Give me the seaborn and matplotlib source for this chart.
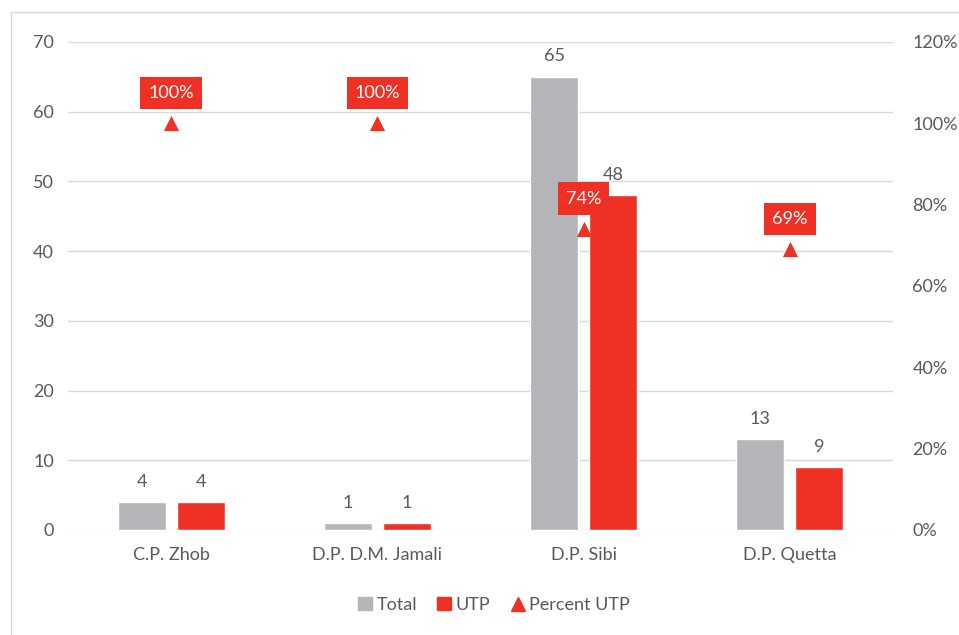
import matplotlib
matplotlib.use('Agg')
import matplotlib.pyplot as plt
import matplotlib.patches as mpatches
from matplotlib.lines import Line2D
import seaborn as sns
import pandas as pd
import numpy as np

# Data
districts = ['C.P. Zhob', 'D.P. D.M. Jamali', 'D.P. Sibi', 'D.P. Quetta']
total = [4, 1, 65, 13]
utp = [4, 1, 48, 9]
percent_utp = [100, 100, 74, 69]

GRAY = '#B4B5B8'
RED = '#EE3124'
TXT = '#595959'
FS = 13

sns.set_theme(style='white')
plt.rcParams['font.family'] = ['Lato', 'DejaVu Sans']

df = pd.DataFrame({'District': districts * 2,
                   'Count': total + utp,
                   'Series': ['Total'] * 4 + ['UTP'] * 4})

fig = plt.figure(figsize=(9.59, 6.35), dpi=100)
ax = fig.add_axes([68 / 959, 105 / 635, 825 / 959, 488 / 635])

sns.barplot(data=df, x='District', y='Count', hue='Series',
            palette=[GRAY, RED], saturation=1, width=0.572, gap=0.185,
            ax=ax, legend=False)

ax.set_ylim(0, 70)
ax.set_xlim(-0.5, 3.5)
ax.set_yticks(range(0, 71, 10))
ax.yaxis.grid(True, color='#D9D9D9', linewidth=1)
ax.set_axisbelow(True)
for s in ax.spines.values():
    s.set_visible(False)
ax.set_xlabel('')
ax.set_ylabel('')
ax.tick_params(axis='both', length=0, labelsize=FS, labelcolor=TXT)
ax.tick_params(axis='y', pad=10)
ax.tick_params(axis='x', pad=12)

for cont in ax.containers:
    ax.bar_label(cont, fmt='%d', padding=9, fontsize=FS, color=TXT)

# secondary axis for the percentages
ax2 = ax.twinx()
ax2.set_ylim(0, 1.2)
ax2.set_yticks(np.arange(0, 1.21, 0.2))
ax2.set_yticklabels([f'{int(round(v * 100))}%' for v in np.arange(0, 1.21, 0.2)])
for s in ax2.spines.values():
    s.set_visible(False)
ax2.tick_params(axis='y', length=0, labelsize=FS, labelcolor=TXT, pad=14)
for tick in ax2.yaxis.get_major_ticks():
    tick.label2.set_horizontalalignment('left')

pct = [p / 100 for p in percent_utp]
ax2.scatter(range(4), pct, marker='^', s=120, color=RED, linewidths=0, zorder=5)
for i, p in enumerate(percent_utp):
    ax2.annotate(f'{p}%', (i, p / 100), xytext=(0, 22), textcoords='offset points',
                 ha='center', va='center', fontsize=FS, color='white', zorder=6,
                 bbox=dict(boxstyle='square,pad=0.45', fc=RED, ec='none'))

handles = [mpatches.Patch(color=GRAY, label='Total'),
           mpatches.Patch(color=RED, label='UTP'),
           Line2D([], [], marker='^', color=RED, linestyle='none', markersize=10,
                  label='Percent UTP')]
fig.legend(handles=handles, loc='center', bbox_to_anchor=(0.515, 1 - 605 / 635),
           ncol=3, frameon=False, fontsize=FS, handlelength=0.8,
           handletextpad=0.25, columnspacing=1.1, labelcolor=TXT)

fig.patches.append(mpatches.Rectangle((11 / 959, -1), 2, 2 - 12 / 635,
                                      transform=fig.transFigure, fill=False,
                                      edgecolor='#D9D9D9', linewidth=1))

fig.savefig('out.png', dpi=100)
